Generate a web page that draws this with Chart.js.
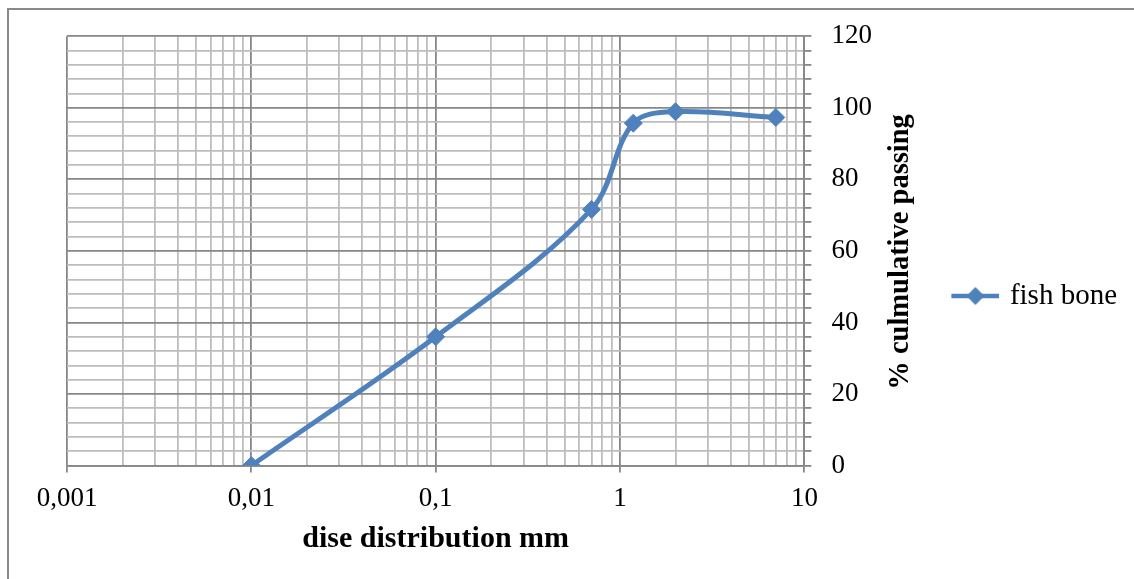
<!DOCTYPE html>
<html>
<head>
<meta charset="utf-8">
<script src="https://cdn.jsdelivr.net/npm/chart.js@4/dist/chart.umd.min.js"></script>
<style>
    html, body { margin: 0; padding: 0; background: #fff; overflow: hidden; }
    #frame { position: absolute; left: 7px; top: 8px; width: 2000px; height: 2000px;
             border-left: 2px solid #8a8a8a; border-top: 2px solid #8a8a8a; }
    #wrap { position: absolute; left: 0; top: 0; width: 1134px; height: 579px; }
</style>
</head>
<body>
<div id="frame"></div>
<div id="wrap"><canvas id="myChart" width="1134" height="579"></canvas></div>
<script>
// data
const sizes = [0.01, 0.1, 0.7, 1.18, 2, 7];
const passing = [0, 36, 71.6, 95.7, 98.9, 97.3];
const xMajor = [0.001, 0.01, 0.1, 1, 10];
const yMajor = [0, 20, 40, 60, 80, 100, 120];
const seriesName = 'fish bone';
const xTitle = 'dise distribution mm';
const yTitle = '% culmulative passing';

const blue = '#4f81bd';
const majorGrid = '#878787';
const minorGrid = '#bdbdbd';
const fontFamily = '"Liberation Serif", "Times New Roman", serif';

// gridline positions: 1..9 within each decade, every 4 % on y
const xGrid = [];
xMajor.forEach((m, i) => {
    xGrid.push(m);
    if (i < xMajor.length - 1) {
        for (let k = 2; k <= 9; k++) xGrid.push(+(m * k).toPrecision(6));
    }
});
const yGrid = [];
for (let v = yMajor[0]; v <= yMajor[yMajor.length - 1]; v += 4) yGrid.push(v);

// legend symbol: line with diamond
const legendIcon = document.createElement('canvas');
legendIcon.width = 48;
legendIcon.height = 20;
(function () {
    const c = legendIcon.getContext('2d');
    c.strokeStyle = blue;
    c.lineWidth = 4.5;
    c.beginPath();
    c.moveTo(0, 10);
    c.lineTo(48, 10);
    c.stroke();
    c.fillStyle = blue;
    c.beginPath();
    c.moveTo(24, 1);
    c.lineTo(33, 10);
    c.lineTo(24, 19);
    c.lineTo(15, 10);
    c.closePath();
    c.fill();
})();

const yTitlePlugin = {
    id: 'yTitle',
    afterDraw(chart) {
        const ctx = chart.ctx;
        const area = chart.chartArea;
        ctx.save();
        ctx.translate(901, (area.top + area.bottom) / 2 + 1);
        ctx.rotate(-Math.PI / 2);
        ctx.font = 'bold 28.5px ' + fontFamily;
        ctx.fillStyle = '#000';
        ctx.textAlign = 'center';
        ctx.textBaseline = 'middle';
        ctx.fillText(yTitle, 0, 0);
        ctx.restore();
    }
};

const ctx = document.getElementById('myChart');
const config = {
    type: 'line',
    data: {
        datasets: [{
            label: seriesName,
            data: sizes.map((s, i) => ({ x: s, y: passing[i] })),
            borderColor: blue,
            backgroundColor: blue,
            borderWidth: 5,
            tension: 0.35,
            pointStyle: 'rectRot',
            pointRadius: 9,
            pointBorderWidth: 1,
            fill: false
        }]
    },
    options: {
        responsive: false,
        animation: false,
        layout: {
            padding: { left: 67, top: 35, right: 7, bottom: 22 }
        },
        plugins: {
            legend: {
                position: 'right',
                labels: {
                    color: '#000',
                    font: { family: fontFamily, size: 29 },
                    usePointStyle: true,
                    pointStyle: legendIcon,
                    pointStyleWidth: 40,
                    padding: 4
                }
            },
            tooltip: { enabled: false }
        },
        scales: {
            x: {
                type: 'logarithmic',
                min: xMajor[0],
                max: xMajor[xMajor.length - 1],
                afterBuildTicks: (scale) => {
                    scale.ticks = xGrid.map(v => ({ value: v }));
                },
                grid: {
                    color: (c) => xMajor.includes(c.tick.value) ? majorGrid : minorGrid,
                    tickColor: (c) => xMajor.includes(c.tick.value) ? majorGrid : 'rgba(0,0,0,0)',
                    lineWidth: 1.8,
                    tickLength: 7
                },
                border: { color: majorGrid, width: 1.8 },
                ticks: {
                    autoSkip: false,
                    maxRotation: 0,
                    padding: 10,
                    color: '#000',
                    font: { family: fontFamily, size: 27 },
                    callback: (v) => xMajor.includes(v) ? String(v).replace('.', ',') : ''
                },
                title: {
                    display: true,
                    text: xTitle,
                    color: '#000',
                    font: { family: fontFamily, size: 30, weight: 'bold' },
                    padding: { top: -4, bottom: 0 }
                }
            },
            y: {
                type: 'linear',
                position: 'right',
                min: yMajor[0],
                max: yMajor[yMajor.length - 1],
                afterBuildTicks: (scale) => {
                    scale.ticks = yGrid.map(v => ({ value: v }));
                },
                afterFit: (scale) => {
                    scale.width = 147;
                },
                grid: {
                    color: (c) => yMajor.includes(c.tick.value) ? majorGrid : minorGrid,
                    tickColor: majorGrid,
                    lineWidth: 1.8,
                    tickLength: 7
                },
                border: { color: majorGrid, width: 1.8 },
                ticks: {
                    autoSkip: false,
                    padding: 20,
                    color: '#000',
                    font: { family: fontFamily, size: 27 },
                    callback: (v) => yMajor.includes(v) ? String(v) : ''
                }
            }
        }
    },
    plugins: [yTitlePlugin]
};
window.myChartInstance = new Chart(ctx, config);
</script>
</body>
</html>
